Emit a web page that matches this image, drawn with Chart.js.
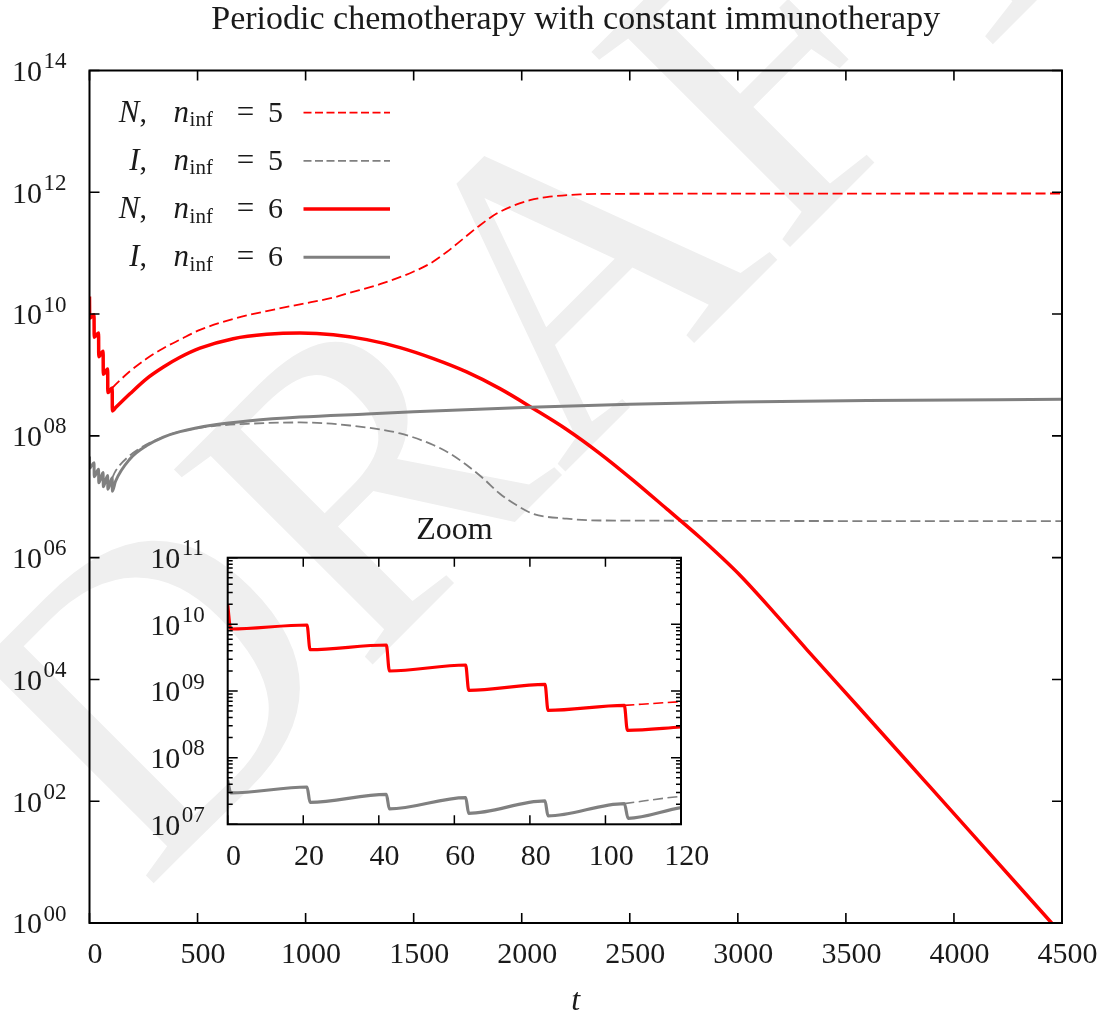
<!DOCTYPE html>
<html>
<head>
<meta charset="utf-8">
<script src="https://cdn.jsdelivr.net/npm/chart.js@4.4.1/dist/chart.umd.min.js"></script>
<style>
  html, body { margin: 0; padding: 0; background: #fff; }
  #wrap { position: relative; width: 1107px; height: 1014px; }
  #main { position: absolute; left: 0; top: 0; }
  #zoom { position: absolute; left: 140px; top: 500px; }
</style>
</head>
<body>
<div id="wrap">
  <canvas id="main" width="1107" height="1014"></canvas>
  <canvas id="zoom" width="580" height="390"></canvas>
</div>
<script>
// values are log10 of the population

// both runs are identical up to the 6th infusion at t = 105
const tEarly = [0, 0.8, 21, 21.8, 42, 42.8, 63, 63.8, 84, 84.8, 105];
const nEarly = [10.29, 9.93, 9.99, 9.62, 9.69, 9.30, 9.39, 9.01, 9.10, 8.71, 8.785];
const iEarly = [7.66, 7.47, 7.56, 7.33, 7.45, 7.23, 7.40, 7.165, 7.35, 7.125, 7.31];

// n_inf = 6 (sixth dose at t = 105)
const tN6 = [105.8, 120, 187, 265, 342, 419, 511, 665, 820, 974, 1128, 1283, 1437, 1591, 1745, 1899, 2053, 2208, 2362, 2516, 2671, 2825, 2917, 3010, 3165, 3319, 3550, 3858, 4090, 4452];
const nN6 = [8.41, 8.46, 8.69, 8.94, 9.13, 9.29, 9.44, 9.596, 9.667, 9.689, 9.662, 9.58, 9.449, 9.268, 9.05, 8.776, 8.45, 8.105, 7.71, 7.27, 6.80, 6.33, 6.03, 5.71, 5.11, 4.49, 3.58, 2.36, 1.44, 0.0];
const tI6 = [106, 120, 187, 265, 342, 419, 573, 743, 974, 1283, 1500, 2038, 2500, 3000, 3600, 4500];
const iI6 = [7.09, 7.25, 7.62, 7.84, 7.98, 8.07, 8.18, 8.25, 8.31, 8.36, 8.395, 8.47, 8.52, 8.555, 8.58, 8.60];

// n_inf = 5 (branches off at t = 105)
const tN5 = [105, 120, 187, 265, 342, 419, 511, 665, 820, 974, 1128, 1190, 1344, 1421, 1498, 1576, 1653, 1730, 1807, 1884, 1961, 2038, 2115, 2270, 2400, 4500];
const nN5 = [8.785, 8.84, 9.06, 9.27, 9.44, 9.58, 9.74, 9.92, 10.05, 10.16, 10.27, 10.335, 10.49, 10.585, 10.695, 10.83, 11.02, 11.24, 11.46, 11.65, 11.78, 11.87, 11.92, 11.965, 11.975, 11.98];
const tI5 = [105, 120, 187, 265, 342, 419, 573, 743, 974, 1205, 1437, 1591, 1668, 1745, 1822, 1899, 1977, 2053, 2208, 2362, 4500];
const iI5 = [7.31, 7.42, 7.68, 7.86, 7.98, 8.07, 8.16, 8.20, 8.22, 8.17, 8.04, 7.85, 7.71, 7.52, 7.30, 7.05, 6.86, 6.72, 6.64, 6.61, 6.60];

// tick labels (exponents) and legend
const yTickExps = [0, 2, 4, 6, 8, 10, 12, 14];
const zoomTickExps = [7, 8, 9, 10, 11];
const legendVar = ['N', 'I', 'N', 'I'];
const legendInf = ['5', '5', '6', '6'];

const FONT = '"Liberation Serif", "Times New Roman", serif';
const TXT = '#1a1a1a';
const RED = '#ff0000';
const GRAY = '#808080';

function pts(ts, ys) {
  return ts.map((t, i) => ({ x: t, y: Math.pow(10, ys[i]) }));
}

function makeSets(wRed, wGray, wDash) {
  const common = { pointRadius: 0, fill: false, cubicInterpolationMode: 'monotone', clip: 0 };
  return [
    Object.assign({ label: 'N5', data: pts(tN5, nN5), borderColor: RED, borderWidth: wDash, borderDash: [10, 4.5], order: 3 }, common),
    Object.assign({ label: 'I5', data: pts(tI5, iI5), borderColor: GRAY, borderWidth: wDash, borderDash: [10, 4.5], order: 2 }, common),
    Object.assign({ label: 'N6', data: pts(tEarly.concat(tN6), nEarly.concat(nN6)), borderColor: RED, borderWidth: wRed, order: 1 }, common),
    Object.assign({ label: 'I6', data: pts(tEarly.concat(tI6), iEarly.concat(iI6)), borderColor: GRAY, borderWidth: wGray, order: 0 }, common)
  ];
}

function drawFrame(ctx, a) {
  ctx.save();
  ctx.strokeStyle = '#000';
  ctx.lineWidth = 2;
  ctx.strokeRect(a.left, a.top, a.right - a.left, a.bottom - a.top);
  ctx.restore();
}

function drawExpLabels(ctx, scale, exps, left) {
  ctx.save();
  ctx.fillStyle = TXT;
  ctx.textAlign = 'left';
  ctx.textBaseline = 'alphabetic';
  exps.forEach(e => {
    const py = scale.getPixelForValue(Math.pow(10, e));
    const x0 = left - 77.5;
    ctx.font = '30px ' + FONT;
    ctx.fillText('10', x0, py + 10.3);
    const w = ctx.measureText('10').width;
    ctx.font = '23px ' + FONT;
    ctx.fillText(String(e).padStart(2, '0'), x0 + w + 1.5, py - 2.5);
  });
  ctx.restore();
}

function drawLegend(ctx, sets) {
  ctx.save();
  ctx.fillStyle = TXT;
  ctx.textBaseline = 'alphabetic';
  for (let i = 0; i < legendVar.length; i++) {
    const cy = 112.7 + i * 48.2;
    const base = cy + 9;
    // "N," right aligned on the comma
    ctx.font = '30px ' + FONT;
    const wc = ctx.measureText(',').width;
    ctx.textAlign = 'right';
    ctx.fillText(',', 147, base);
    ctx.font = 'italic 31px ' + FONT;
    ctx.fillText(legendVar[i], 147 - wc, base);
    // n_inf
    ctx.textAlign = 'left';
    ctx.fillText('n', 173.6, base);
    const wn = ctx.measureText('n').width;
    ctx.font = '21px ' + FONT;
    ctx.fillText('inf', 173.6 + wn + 0.5, base + 4.5);
    // = value
    ctx.font = '31px ' + FONT;
    ctx.textAlign = 'center';
    ctx.fillText('=', 245.5, base);
    ctx.textAlign = 'left';
    ctx.font = '30px ' + FONT;
    ctx.fillText(legendInf[i], 268, base);

    const ds = sets[i];
    ctx.save();
    ctx.strokeStyle = ds.borderColor;
    ctx.lineWidth = ds.borderWidth;
    ctx.setLineDash(ds.borderDash ? [8, 3.5] : []);
    ctx.beginPath();
    ctx.moveTo(303.5, cy);
    ctx.lineTo(390, cy);
    ctx.stroke();
    ctx.restore();
  }
  ctx.restore();
}

const mainDecor = {
  id: 'mainDecor',
  beforeDraw(chart) {
    const ctx = chart.ctx;
    ctx.save();
    ctx.translate(145, 892);
    ctx.rotate(-Math.PI / 4);
    ctx.fillStyle = '#efefef';
    ctx.font = '425px ' + FONT;
    ctx.textBaseline = 'alphabetic';
    ctx.fillText('DRAFT', 0, 0);
    ctx.restore();
  },
  afterDraw(chart) {
    const ctx = chart.ctx;
    const a = chart.chartArea;
    const x = chart.scales.x, y = chart.scales.y;
    drawFrame(ctx, a);

    ctx.save();
    ctx.strokeStyle = '#000';
    ctx.lineWidth = 1.6;
    ctx.beginPath();
    x.ticks.forEach(t => {
      const px = x.getPixelForValue(t.value);
      ctx.moveTo(px, a.bottom); ctx.lineTo(px, a.bottom - 10);
      ctx.moveTo(px, a.top); ctx.lineTo(px, a.top + 10);
    });
    yTickExps.forEach(e => {
      const py = y.getPixelForValue(Math.pow(10, e));
      ctx.moveTo(a.left, py); ctx.lineTo(a.left + 10, py);
      ctx.moveTo(a.right, py); ctx.lineTo(a.right - 10, py);
    });
    ctx.stroke();
    ctx.restore();

    drawExpLabels(ctx, y, yTickExps, a.left);
    drawLegend(ctx, chart.data.datasets);
  }
};

const zoomDecor = {
  id: 'zoomDecor',
  afterDraw(chart) {
    const ctx = chart.ctx;
    const a = chart.chartArea;
    const x = chart.scales.x, y = chart.scales.y;
    drawFrame(ctx, a);
    ctx.save();
    ctx.strokeStyle = '#000';
    ctx.lineWidth = 1.5;
    ctx.beginPath();
    x.ticks.forEach(t => {
      const px = x.getPixelForValue(t.value);
      ctx.moveTo(px, a.bottom); ctx.lineTo(px, a.bottom - 9);
      ctx.moveTo(px, a.top); ctx.lineTo(px, a.top + 9);
    });
    zoomTickExps.forEach((e, k) => {
      const py = y.getPixelForValue(Math.pow(10, e));
      ctx.moveTo(a.left, py); ctx.lineTo(a.left + 10, py);
      ctx.moveTo(a.right, py); ctx.lineTo(a.right - 10, py);
      if (k === zoomTickExps.length - 1) return;
      for (let m = 2; m <= 9; m++) {
        const pm = y.getPixelForValue(m * Math.pow(10, e));
        ctx.moveTo(a.left, pm); ctx.lineTo(a.left + 5, pm);
        ctx.moveTo(a.right, pm); ctx.lineTo(a.right - 5, pm);
      }
    });
    ctx.stroke();
    ctx.restore();
    drawExpLabels(ctx, y, zoomTickExps, a.left);
  }
};

const xTickFont = { family: FONT, size: 30 };
const plainNumber = v => String(v);

new Chart(document.getElementById('main'), {
  type: 'line',
  data: { datasets: makeSets(3.5, 3, 1.8) },
  options: {
    responsive: false,
    animation: false,
    events: [],
    layout: { padding: { left: 89.5, right: 45, top: 0, bottom: 0 } },
    plugins: {
      legend: { display: false },
      tooltip: { enabled: false },
      title: {
        display: true,
        text: 'Periodic chemotherapy with constant immunotherapy',
        color: TXT,
        font: { family: FONT, size: 34, weight: 'normal', lineHeight: 1.2 },
        padding: { top: 0, bottom: 29.7 }
      }
    },
    scales: {
      x: {
        type: 'linear', min: 0, max: 4500,
        grid: { display: false, drawTicks: false },
        border: { display: false },
        ticks: { stepSize: 500, color: TXT, font: xTickFont, padding: 14, labelOffset: 5.5, maxRotation: 0, autoSkip: false, callback: plainNumber },
        title: { display: true, text: 't', color: TXT, font: { family: FONT, size: 32, style: 'italic', lineHeight: 0.8 }, padding: { top: 0, bottom: 0 } },
        afterFit(s) { s.height = 91; }
      },
      y: { type: 'logarithmic', display: false, min: 1, max: 1e14 }
    }
  },
  plugins: [mainDecor]
});

new Chart(document.getElementById('zoom'), {
  type: 'line',
  data: { datasets: makeSets(3.2, 3.2, 1.6) },
  options: {
    responsive: false,
    animation: false,
    events: [],
    layout: { padding: { left: 87.7, right: 39, top: 0, bottom: 0 } },
    plugins: {
      legend: { display: false },
      tooltip: { enabled: false },
      title: {
        display: true,
        text: 'Zoom',
        color: TXT,
        font: { family: FONT, size: 32, weight: 'normal', lineHeight: 1.2 },
        padding: { top: 11.6, bottom: 7.7 }
      }
    },
    scales: {
      x: {
        type: 'linear', min: 0, max: 120,
        grid: { display: false, drawTicks: false },
        border: { display: false },
        ticks: { stepSize: 20, color: TXT, font: xTickFont, padding: 14.5, labelOffset: 5.8, maxRotation: 0, autoSkip: false, callback: plainNumber },
        afterFit(s) { s.height = 65.7; }
      },
      y: { type: 'logarithmic', display: false, min: 1e7, max: 1e11 }
    }
  },
  plugins: [zoomDecor]
});
</script>
</body>
</html>
